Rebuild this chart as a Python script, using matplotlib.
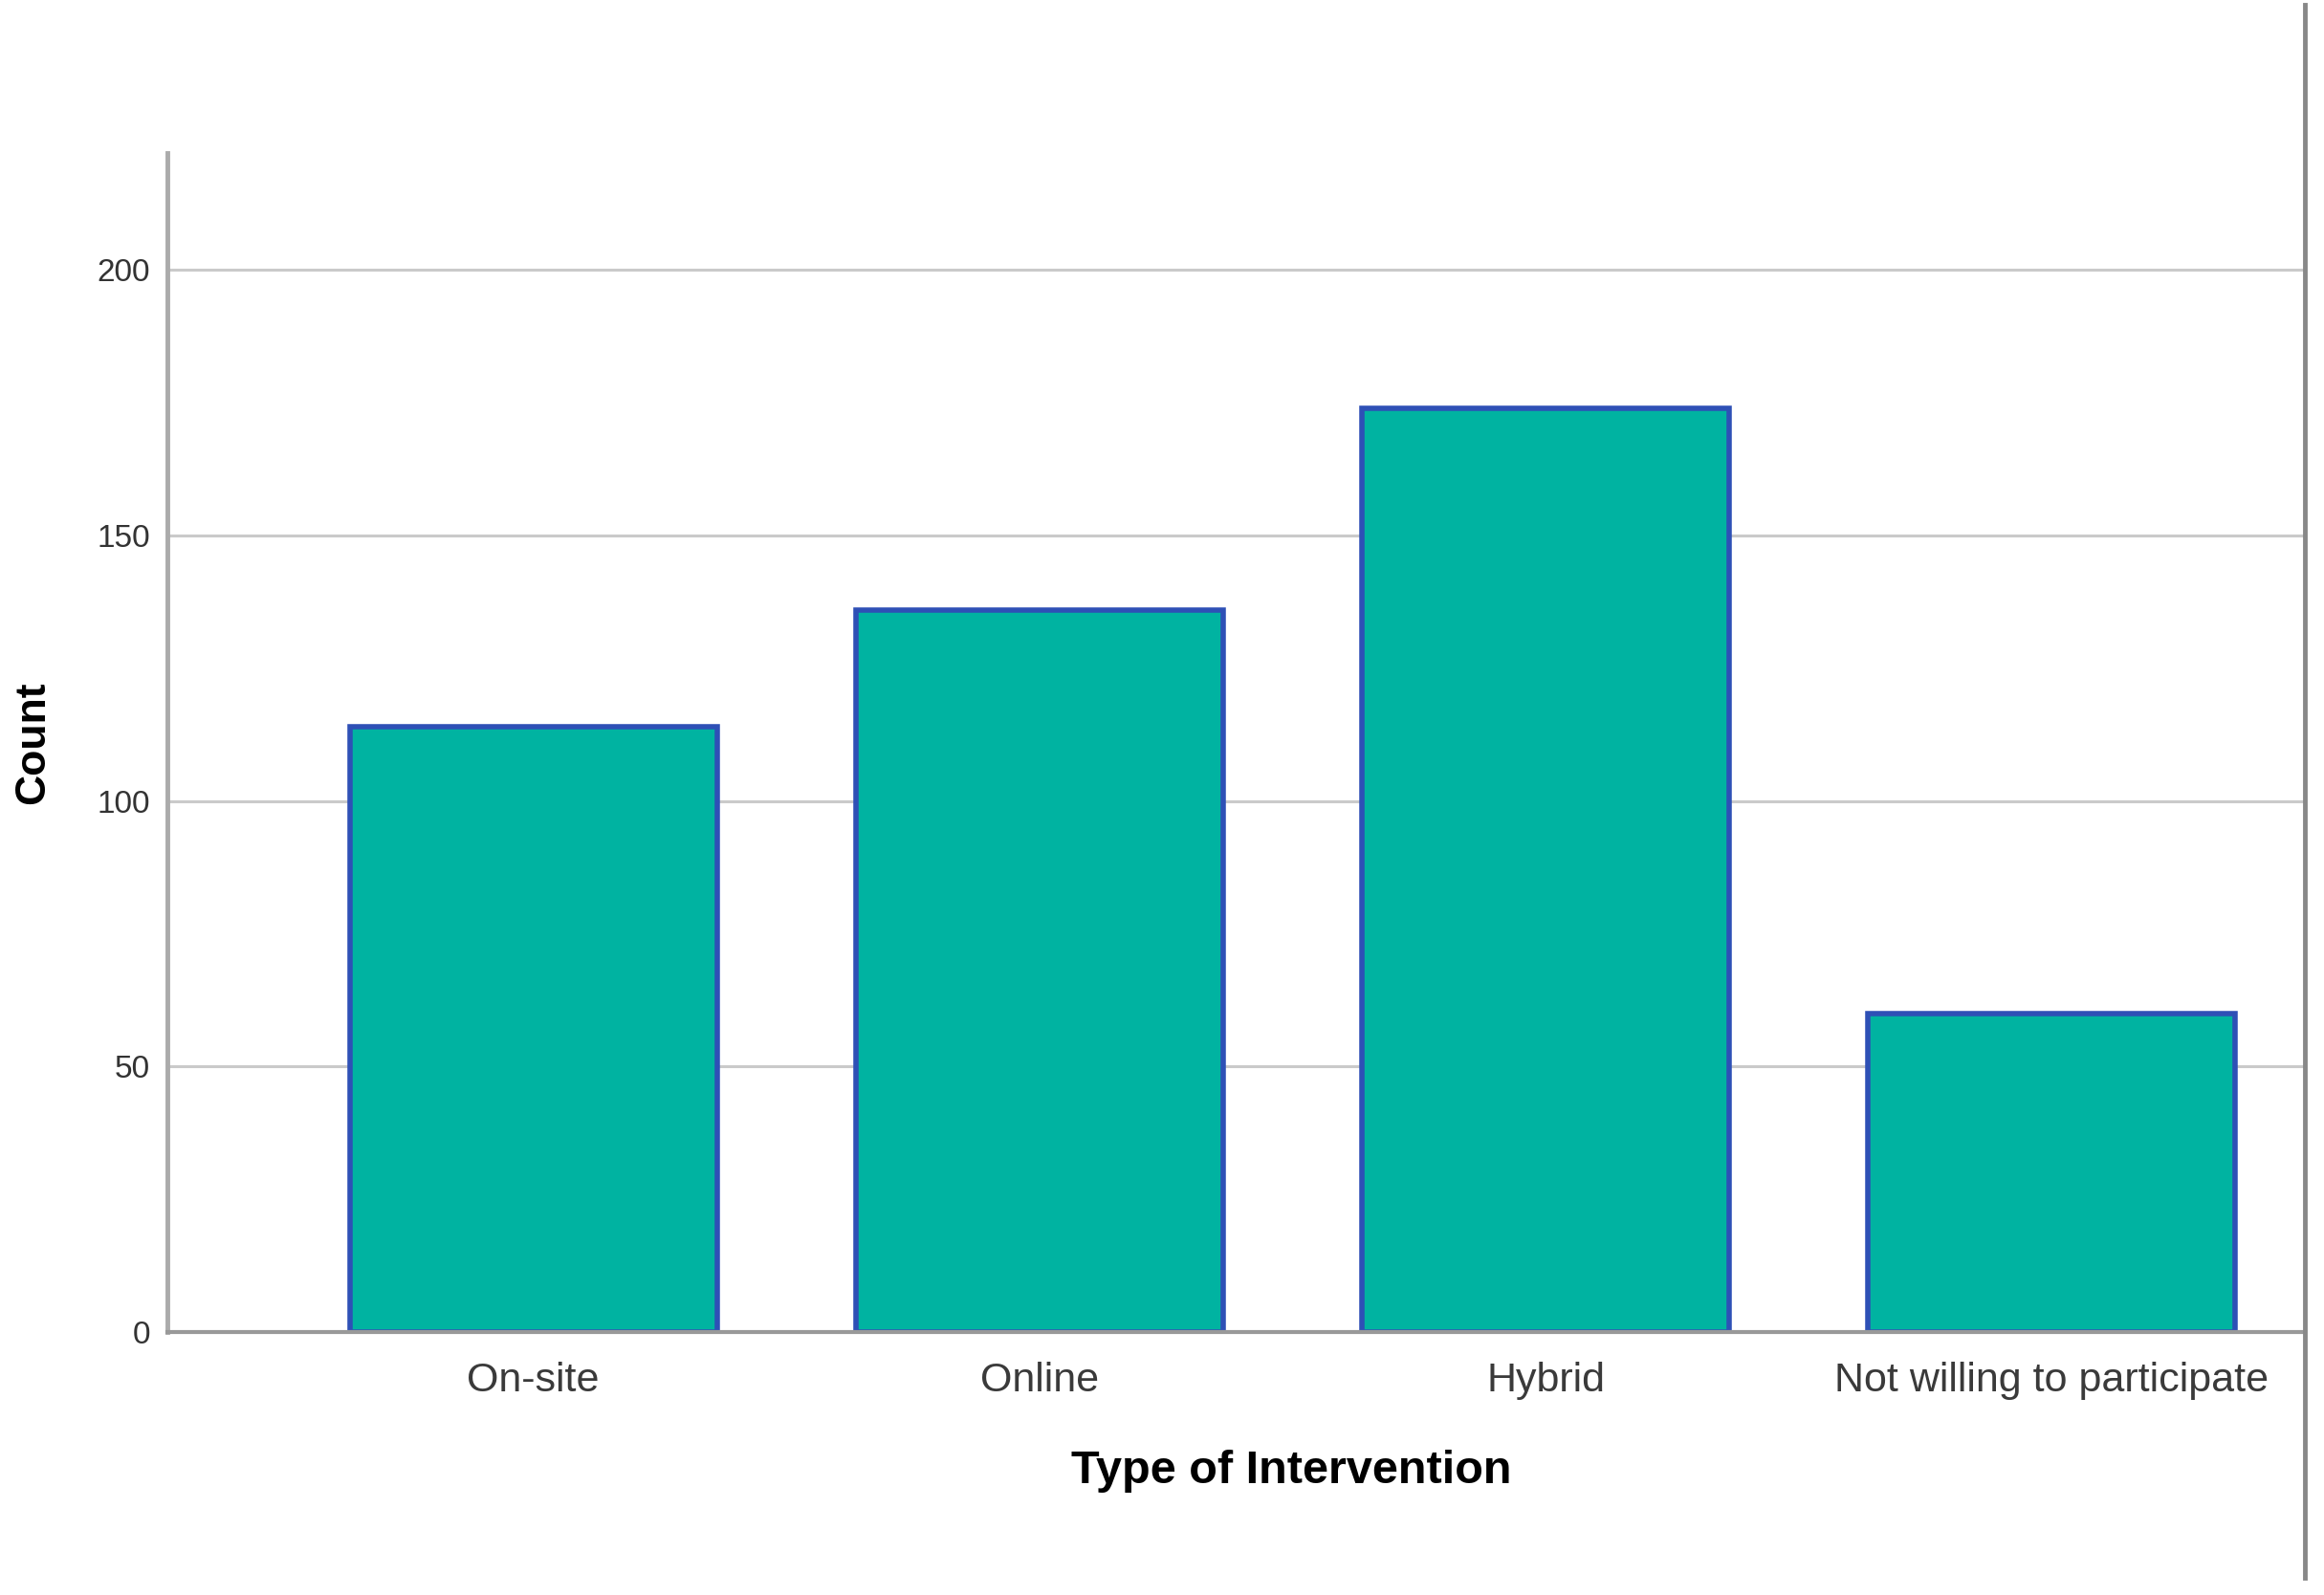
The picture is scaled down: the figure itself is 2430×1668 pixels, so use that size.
import matplotlib
matplotlib.use('Agg')
import matplotlib.pyplot as plt
from matplotlib.lines import Line2D

# data
categories = ['On-site', 'Online', 'Hybrid', 'Not willing to participate']
counts = [114, 136, 174, 60]
y_ticks = [0, 50, 100, 150, 200]

plt.rcParams['font.family'] = ['Liberation Sans', 'DejaVu Sans']

fig = plt.figure(figsize=(24.3, 16.68), dpi=100)
fig.patch.set_facecolor('white')

W, H = 2430, 1668
ax = fig.add_axes([175 / W, 1 - 1393 / H, (2410 - 175) / W, (1393 - 160) / H])

x = list(range(len(categories)))
ax.bar(x, counts, width=0.726, color='#00B3A1', edgecolor='#2E50B6',
       linewidth=4, zorder=3)

ax.set_xlim(-0.723, 3.5)
ax.set_ylim(0, 222)
ax.set_yticks(y_ticks)
ax.set_yticklabels([str(v) for v in y_ticks])
ax.set_xticks(x)
ax.set_xticklabels(categories)

# horizontal grid lines
for v in y_ticks[1:]:
    ax.axhline(v, color='#CACACA', linewidth=2.2, zorder=1)

for side in ['top', 'right']:
    ax.spines[side].set_visible(False)
ax.spines['left'].set_color('#ABABAB')
ax.spines['left'].set_linewidth(3.5)
ax.spines['bottom'].set_color('#999999')
ax.spines['bottom'].set_linewidth(3)
ax.spines['bottom'].set_zorder(4)

ax.tick_params(axis='y', length=0, pad=13, labelsize=24, labelcolor='#333333')
ax.tick_params(axis='x', length=0, pad=22, labelsize=31, labelcolor='#3a3a3a')

ax.set_ylabel('Count', fontsize=32, fontweight='bold', va='center')
ax.yaxis.set_label_coords(-0.0626, 0.5)
ax.set_xlabel('Type of Intervention', fontsize=35, fontweight='bold', va='center')
ax.xaxis.set_label_coords(0.526, -0.118)

# frame line at the right edge of the picture
fig.add_artist(Line2D([2410 / W, 2410 / W], [1 - 5 / H, 1 - 1650 / H],
                      transform=fig.transFigure, color='#888888', linewidth=3.5))

fig.savefig('out.png', dpi=100, facecolor='white')
